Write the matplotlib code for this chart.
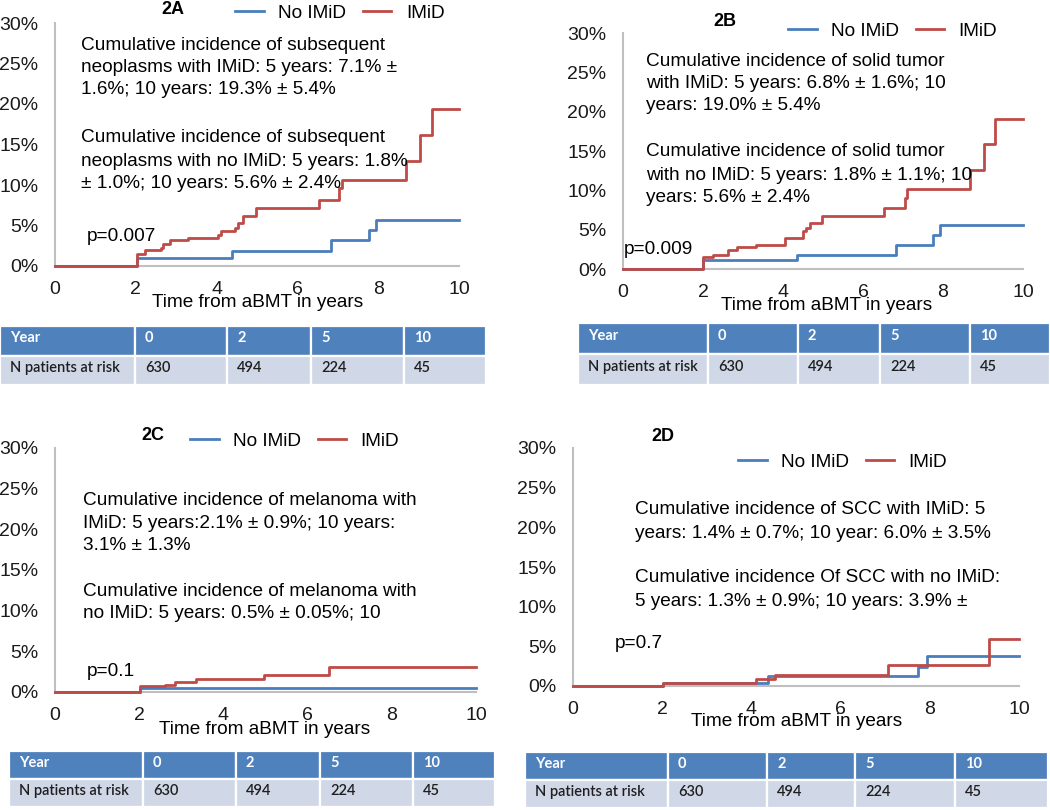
import matplotlib
matplotlib.use('Agg')
import matplotlib.pyplot as plt
from matplotlib.patches import Rectangle
from matplotlib.ticker import PercentFormatter

plt.rcParams['font.family'] = ['Liberation Sans', 'DejaVu Sans']

W, H = 1050, 810
BLUE = '#4A7EBB'
RED = '#BE4B48'
GRID = '#BFBFBF'
FS = 13.7

# risk table (same under every panel)
risk_years = ['0', '2', '5', '10']
risk_n = ['630', '494', '224', '45']

# 2A - subsequent neoplasms (time in years, cumulative incidence in %)
a_no_t = [0, 2.02, 4.37, 6.83, 7.76, 7.95, 10]
a_no_v = [0, 1.03, 1.86, 3.26, 4.42, 5.65, 5.65]
a_imid_t = [0, 2.02, 2.24, 2.62, 2.68, 2.85, 3.30, 4.03, 4.11, 4.46, 4.53, 4.66,
            4.98, 6.53, 7.03, 7.10, 8.70, 9.03, 9.32, 10]
a_imid_v = [0, 1.44, 1.94, 2.27, 2.77, 3.26, 3.43, 3.80, 4.33, 4.75, 5.30, 6.15,
            7.14, 8.13, 9.66, 10.6, 12.96, 16.2, 19.4, 19.4]

# 2B - solid tumor
b_no_t = [0, 1.99, 4.36, 6.83, 7.75, 7.93, 10]
b_no_v = [0, 1.19, 1.74, 3.09, 4.36, 5.64, 5.64]
b_imid_t = [0, 1.99, 2.24, 2.63, 2.85, 3.32, 4.05, 4.49, 4.57, 4.67, 4.97, 6.53,
            7.05, 7.11, 8.68, 9.03, 9.31, 10]
b_imid_v = [0, 1.53, 1.74, 2.37, 2.75, 3.09, 3.94, 4.79, 5.21, 5.85, 6.78, 7.75,
            9.03, 10.2, 12.6, 15.9, 19.1, 19.1]

# 2C - melanoma
c_no_t = [0, 2.02, 10]
c_no_v = [0, 0.53, 0.53]
c_imid_t = [0, 2.02, 2.61, 2.85, 3.34, 4.97, 6.50, 10]
c_imid_v = [0, 0.70, 0.82, 1.23, 1.64, 2.13, 3.07, 3.07]

# 2D - SCC
d_no_t = [0, 2.02, 4.37, 7.74, 7.94, 10]
d_no_v = [0, 0.35, 1.26, 2.44, 3.83, 3.83]
d_imid_t = [0, 2.02, 4.10, 4.52, 7.06, 9.33, 10]
d_imid_v = [0, 0.42, 0.88, 1.39, 2.65, 5.97, 5.97]

a_text = [["Cumulative incidence of subsequent",
           "neoplasms with IMiD: 5 years: 7.1% \u00b1",
           "1.6%; 10 years: 19.3% \u00b1 5.4%"],
          ["Cumulative incidence of subsequent",
           "neoplasms with no IMiD: 5 years: 1.8%",
           "\u00b1 1.0%; 10 years: 5.6% \u00b1 2.4%"]]
b_text = [["Cumulative incidence of solid tumor",
           "with IMiD: 5 years: 6.8% \u00b1 1.6%; 10",
           "years: 19.0% \u00b1 5.4%"],
          ["Cumulative incidence of solid tumor",
           "with no IMiD: 5 years: 1.8% \u00b1 1.1%; 10",
           "years: 5.6% \u00b1 2.4%"]]
c_text = [["Cumulative incidence of melanoma with",
           "IMiD: 5 years:2.1% \u00b1 0.9%; 10 years:",
           "3.1% \u00b1 1.3%"],
          ["Cumulative incidence of melanoma with",
           "no IMiD: 5 years: 0.5% \u00b1 0.05%; 10"]]
d_text = [["Cumulative incidence of SCC with IMiD: 5",
           "years: 1.4% \u00b1 0.7%; 10 year: 6.0% \u00b1 3.5%"],
          ["Cumulative incidence Of SCC with no IMiD:",
           "5 years: 1.3% \u00b1 0.9%; 10 years: 3.9% \u00b1"]]


def px(x, y):
    # pixel position (from top-left) -> figure fraction
    return x / W, 1 - y / H


def axes_px(fig, x0, y0, x1, y1):
    return fig.add_axes([x0 / W, 1 - y1 / H, (x1 - x0) / W, (y1 - y0) / H])


def draw_table(fig, lay):
    tx0, ty0, tx1, ty1 = lay['table']
    cols = lay['cols']
    tax = axes_px(fig, tx0, ty0, tx1, ty1)
    tax.set_xlim(tx0, tx1)
    tax.set_ylim(ty1, ty0)   # pixel-like, top row first
    tax.axis('off')
    rows = [['Year'] + risk_years, ['N patients at risk'] + risk_n]
    row_h = (ty1 - ty0) / 2
    for r, row in enumerate(rows):
        top = ty0 + r * row_h
        for c, label in enumerate(row):
            left = cols[c]
            w = cols[c + 1] - cols[c]
            face = '#4F81BD' if r == 0 else '#D0D8E8'
            tax.add_patch(Rectangle((left, top), w, row_h, facecolor=face,
                                    edgecolor='white', lw=1.6))
            tax.text(left + 10, top + row_h * 0.42, label,
                     family=['Lato', 'DejaVu Sans'], fontsize=10.5,
                     fontweight='bold' if r == 0 else 'semibold',
                     color='white' if r == 0 else '#1f1f1f',
                     ha='left', va='center')


def draw_panel(fig, lay, title, no_t, no_v, imid_t, imid_v, texts, pval):
    ax = axes_px(fig, *lay['ax'])
    ax.step(no_t, no_v, where='post', color=BLUE, lw=2.0, label='No IMiD',
            clip_on=False, zorder=3)
    ax.step(imid_t, imid_v, where='post', color=RED, lw=2.0, label='IMiD',
            clip_on=False, zorder=3.1)
    ax.set_xlim(0, 10)
    ax.set_ylim(0, 30)
    ax.set_xticks(range(0, 11, 2))
    ax.set_yticks(range(0, 31, 5))
    ax.yaxis.set_major_formatter(PercentFormatter(decimals=0))
    for s in ['top', 'right']:
        ax.spines[s].set_visible(False)
    for s in ['left', 'bottom']:
        ax.spines[s].set_color(GRID)
        ax.spines[s].set_linewidth(1.5)
    ax.tick_params(length=0, labelsize=14, colors='#1a1a1a')
    ax.tick_params(axis='y', pad=12)
    ax.tick_params(axis='x', pad=11)
    ax.patch.set_alpha(0)

    fig.text(*px(*lay['title']), title, fontsize=13, fontweight='bold',
             ha='center', va='center')
    ax.legend(loc='center left', bbox_to_anchor=px(*lay['legend']),
              bbox_transform=fig.transFigure, ncol=2, frameon=False,
              fontsize=FS, borderpad=0, borderaxespad=0, handlelength=1.5,
              handletextpad=0.75, columnspacing=0.9)
    x0, ys = lay['text']
    lines = texts[0] + texts[1]
    for line, y in zip(lines, ys):
        fig.text(*px(x0, y), line, fontsize=FS, ha='left', va='center', zorder=5)
    fig.text(*px(*lay['p']), pval, fontsize=FS, ha='left', va='center')
    fig.text(*px(*lay['xlabel']), 'Time from aBMT in years', fontsize=FS,
             ha='center', va='center')
    draw_table(fig, lay)
    return ax


fig = plt.figure(figsize=(10.5, 8.1), dpi=100)

lay_a = dict(ax=(55, 23, 459, 266), title=(173, 9), legend=(235, 13),
             text=(81, [46, 68, 90, 137, 161, 183]), p=(87, 237),
             xlabel=(258, 302), table=(0, 326, 486, 385),
             cols=[0, 135, 227, 311, 404, 486])
lay_b = dict(ax=(623, 33, 1023, 269), title=(725, 21), legend=(788, 31),
             text=(646, [61, 83, 106, 152, 175, 198]), p=(624, 250),
             xlabel=(827, 305), table=(578, 323, 1050, 385),
             cols=[578, 708, 798, 880, 970, 1050])
lay_c = dict(ax=(55, 448, 476, 692), title=(153, 435), legend=(190, 441),
             text=(83, [501, 523, 545, 592, 614]), p=(87, 672),
             xlabel=(265, 729), table=(9, 751, 495, 807),
             cols=[9, 143, 236, 320, 413, 495])
lay_d = dict(ax=(573, 448, 1019, 686), title=(663, 436), legend=(738, 462),
             text=(635, [510, 533, 578, 601]), p=(615, 644),
             xlabel=(797, 722), table=(525, 752, 1048, 808),
             cols=[525, 668, 767, 855, 955, 1048])

draw_panel(fig, lay_a, '2A', a_no_t, a_no_v, a_imid_t, a_imid_v, a_text, 'p=0.007')
draw_panel(fig, lay_b, '2B', b_no_t, b_no_v, b_imid_t, b_imid_v, b_text, 'p=0.009')
draw_panel(fig, lay_c, '2C', c_no_t, c_no_v, c_imid_t, c_imid_v, c_text, 'p=0.1')
draw_panel(fig, lay_d, '2D', d_no_t, d_no_v, d_imid_t, d_imid_v, d_text, 'p=0.7')

fig.savefig('out.png', dpi=100)
